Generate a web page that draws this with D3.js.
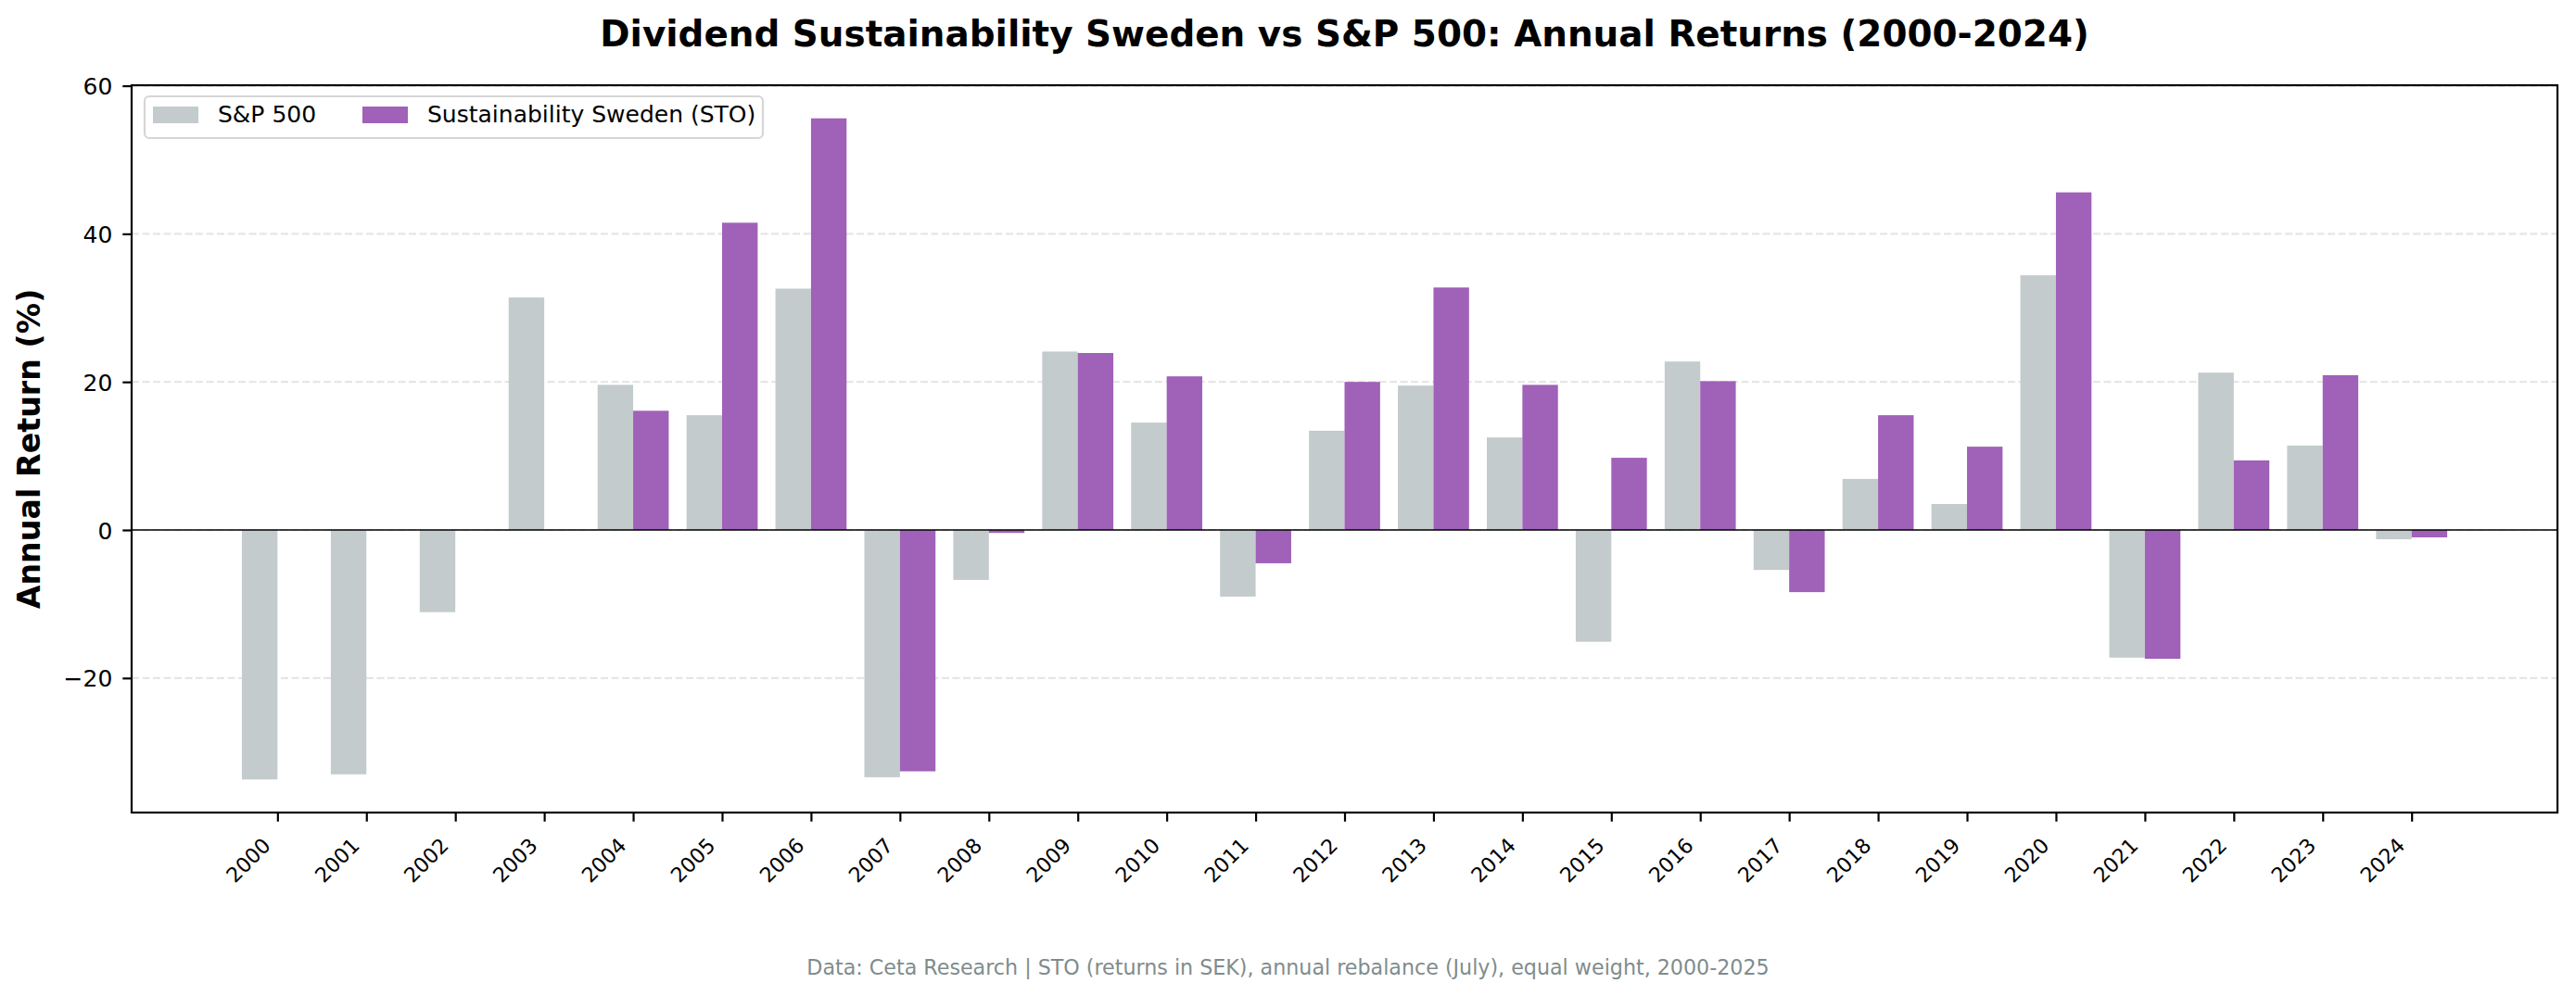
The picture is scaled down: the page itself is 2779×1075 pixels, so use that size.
<!doctype html>
<html>
<head>
<meta charset="UTF-8">
<title>Dividend Sustainability Sweden vs S&amp;P 500</title>
<script src="https://cdn.jsdelivr.net/npm/d3@7"></script>
<style>
	body { margin: 0; background: #fff; }
	svg { display: block; font-family: "DejaVu Sans", sans-serif; }
</style>
</head>
<body>
<svg id="chart"></svg>
<script>
(function(){
	'use strict'

	// values (annual returns in %)
	const years = [2000, 2001, 2002, 2003, 2004, 2005, 2006, 2007, 2008, 2009, 2010, 2011, 2012,
	               2013, 2014, 2015, 2016, 2017, 2018, 2019, 2020, 2021, 2022, 2023, 2024];
	const spReturns = [-33.7, -33.0, -11.1, 31.4, 19.6, 15.5, 32.6, -33.4, -6.75, 24.1, 14.5, -9.0, 13.4,
	                   19.5, 12.5, -15.1, 22.75, -5.4, 6.9, 3.5, 34.4, -17.25, 21.25, 11.4, -1.25];
	const stoReturns = [null, null, null, null, 16.1, 41.5, 55.6, -32.6, -0.4, 23.9, 20.75, -4.5, 20.0,
	                    32.75, 19.6, 9.75, 20.1, -8.4, 15.5, 11.25, 45.6, -17.4, 9.4, 20.9, -1.0];
	const yTicks = [-20, 0, 20, 40, 60];
	const seriesNames = ['S&P 500', 'Sustainability Sweden (STO)'];
	const seriesColors = ['#c3cbcc', '#a061b8'];

	const titleText = 'Dividend Sustainability Sweden vs S&P 500: Annual Returns (2000-2024)';
	const yLabelText = 'Annual Return (%)';
	const footerText = 'Data: Ceta Research | STO (returns in SEK), annual rebalance (July), equal weight, 2000-2025';

	const width = 2779, height = 1075;
	const plot = {left: 142, right: 2759, top: 92, bottom: 877};
	const barWidth = 0.4;

	const svg = d3.select('#chart').attr('width', width).attr('height', height);

	const x = d3.scaleLinear().domain([1998.36, 2025.64]).range([plot.left, plot.right]);
	const y = d3.scaleLinear().domain([-38.17, 60.07]).range([plot.bottom, plot.top]);

	// dashed horizontal grid
	svg.append('g')
		.selectAll('line')
		.data(yTicks)
		.join('line')
		.attr('x1', plot.left).attr('x2', plot.right)
		.attr('y1', d => y(d)).attr('y2', d => y(d))
		.attr('stroke', '#e6e6e6')
		.attr('stroke-width', 2.2)
		.attr('stroke-dasharray', '8,3.5');

	// bars: S&P to the left of the tick, STO to the right
	const rows = years.map((yr, i) => ({year: yr, sp: spReturns[i], sto: stoReturns[i]}));
	const bars = svg.append('g');

	bars.selectAll('rect.sp')
		.data(rows)
		.join('rect')
		.attr('class', 'sp')
		.attr('x', d => x(d.year - barWidth))
		.attr('width', d => x(d.year) - x(d.year - barWidth))
		.attr('y', d => y(Math.max(0, d.sp)))
		.attr('height', d => Math.abs(y(d.sp) - y(0)))
		.attr('fill', seriesColors[0]);

	bars.selectAll('rect.sto')
		.data(rows.filter(d => d.sto !== null))
		.join('rect')
		.attr('class', 'sto')
		.attr('x', d => x(d.year))
		.attr('width', d => x(d.year + barWidth) - x(d.year))
		.attr('y', d => y(Math.max(0, d.sto)))
		.attr('height', d => Math.abs(y(d.sto) - y(0)))
		.attr('fill', seriesColors[1]);

	// zero line
	svg.append('line')
		.attr('x1', plot.left).attr('x2', plot.right)
		.attr('y1', y(0)).attr('y2', y(0))
		.attr('stroke', '#000')
		.attr('stroke-width', 1.7);

	// axes
	const yAxis = svg.append('g')
		.attr('transform', 'translate(' + plot.left + ',0)')
		.call(d3.axisLeft(y).tickValues(yTicks).tickSize(9.7).tickSizeOuter(0).tickPadding(11));
	yAxis.select('.domain').remove();
	yAxis.selectAll('line').attr('stroke-width', 2.2);
	yAxis.selectAll('text')
		.attr('font-size', 25)
		.attr('font-family', 'DejaVu Sans')
		.attr('fill', '#000')
		.attr('dy', 9.1);

	const xAxis = svg.append('g')
		.attr('transform', 'translate(0,' + plot.bottom + ')')
		.call(d3.axisBottom(x).tickValues(years).tickFormat(d3.format('d')).tickSize(9.7).tickSizeOuter(0));
	xAxis.select('.domain').remove();
	xAxis.selectAll('line').attr('stroke-width', 2.2);
	xAxis.selectAll('text')
		.attr('font-size', 22.2)
		.attr('font-family', 'DejaVu Sans')
		.attr('fill', '#000')
		.attr('text-anchor', 'end')
		.attr('x', -6.5)
		.attr('y', 37)
		.attr('dy', null)
		.attr('transform', 'rotate(-45,-6.5,37)');

	// frame (all four spines)
	svg.append('rect')
		.attr('x', plot.left).attr('y', plot.top)
		.attr('width', plot.right - plot.left)
		.attr('height', plot.bottom - plot.top)
		.attr('fill', 'none')
		.attr('stroke', '#000')
		.attr('stroke-width', 2.2);

	// title, y label, footer
	svg.append('text')
		.attr('x', (plot.left + plot.right) / 2)
		.attr('y', 50)
		.attr('text-anchor', 'middle')
		.attr('font-size', 38.9)
		.attr('font-weight', 'bold')
		.text(titleText);

	svg.append('text')
		.attr('transform', 'translate(43,' + ((plot.top + plot.bottom) / 2) + ') rotate(-90)')
		.attr('text-anchor', 'middle')
		.attr('font-size', 33.3)
		.attr('font-weight', 'bold')
		.text(yLabelText);

	svg.append('text')
		.attr('x', width / 2)
		.attr('y', 1052)
		.attr('text-anchor', 'middle')
		.attr('font-size', 22.2)
		.attr('fill', '#7f8c8d')
		.text(footerText);

	// legend
	const legend = svg.append('g');
	legend.append('rect')
		.attr('x', 156).attr('y', 104)
		.attr('width', 667).attr('height', 45)
		.attr('rx', 5)
		.attr('fill', 'rgba(255,255,255,0.8)')
		.attr('stroke', '#d6d6d6')
		.attr('stroke-width', 2.2);

	const legendX = [165, 391];
	seriesNames.forEach(function(name, i){
		legend.append('rect')
			.attr('x', legendX[i]).attr('y', 115)
			.attr('width', 49).attr('height', 18)
			.attr('fill', seriesColors[i]);
		legend.append('text')
			.attr('x', legendX[i] + 70)
			.attr('y', 131.7)
			.attr('font-size', 25)
			.text(name);
	});

})();
</script>
</body>
</html>
